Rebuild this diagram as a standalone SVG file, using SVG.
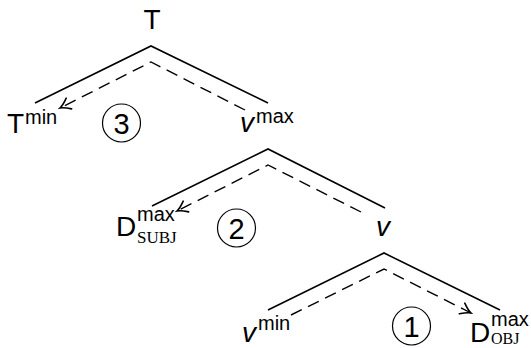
<svg xmlns="http://www.w3.org/2000/svg" width="531" height="348" viewBox="0 0 531 348">
<defs>
<style>
.solid{fill:none;stroke:#000;stroke-width:1.6}
.dash{fill:none;stroke:#000;stroke-width:1.4;stroke-dasharray:12 7}
.circ{fill:none;stroke:#000;stroke-width:1.2}
.lbl{font-family:"Liberation Sans","DejaVu Sans",sans-serif;font-size:28px;fill:#000}
.it{font-style:italic}
.sup{font-family:"Liberation Sans","DejaVu Sans",sans-serif;font-size:20px;fill:#000}
.sub{font-family:"Liberation Serif","DejaVu Serif",serif;font-size:17px;fill:#000}
.num{font-family:"Liberation Sans","DejaVu Sans",sans-serif;font-size:29px;fill:#000;text-anchor:middle}
</style>
<marker id="arr" viewBox="-12 -7 14 14" refX="0" refY="0" markerWidth="14" markerHeight="14" markerUnits="userSpaceOnUse" orient="auto">
<path d="M -10,-6 Q -4,-1.2 0,0 Q -4,1.2 -10,6" fill="none" stroke="#000" stroke-width="1.6" stroke-linecap="round"/>
</marker>
</defs>
<g id="connectors">
<polyline class="solid" points="35,103 151,46 268,103"/>
<polyline class="dash" points="245,110 151,62 60,108" marker-end="url(#arr)"/>
<polyline class="solid" points="152,206 268,149 385,208"/>
<polyline class="dash" points="361,212 268,165 177,211" marker-end="url(#arr)"/>
<polyline class="solid" points="268,310 384,253 500,310"/>
<polyline class="dash" points="291,315 384,269 471,313" marker-end="url(#arr)"/>
</g>
<g id="T">
<text class="lbl" x="152" y="29" text-anchor="middle">T</text>
</g>
<g id="Tmin">
<text class="lbl" x="7" y="133">T</text>
<text class="sup" x="25" y="124">min</text>
</g>
<g id="vmax">
<text class="lbl it" x="240" y="132">v</text>
<text class="sup" x="256" y="123">max</text>
</g>
<g id="circle3">
<circle class="circ" cx="121.5" cy="123" r="19"/>
<text class="num" x="121.5" y="133.5">3</text>
</g>
<g id="Dsubj">
<text class="lbl" x="116" y="236">D</text>
<text class="sup" x="137" y="221">max</text>
<text class="sub" x="137" y="243">SUBJ</text>
</g>
<g id="v">
<text class="lbl it" x="376" y="236">v</text>
</g>
<g id="circle2">
<circle class="circ" cx="236.5" cy="228" r="19"/>
<text class="num" x="236.5" y="238.5">2</text>
</g>
<g id="vmin">
<text class="lbl it" x="242" y="342">v</text>
<text class="sup" x="258" y="330">min</text>
</g>
<g id="circle1">
<circle class="circ" cx="411.5" cy="326" r="19"/>
<text class="num" x="411.5" y="336.5">1</text>
</g>
<g id="Dobj">
<text class="lbl" x="470" y="342">D</text>
<text class="sup" x="491" y="326">max</text>
<text class="sub" x="491" y="343.5" style="font-size:16px">OBJ</text>
</g>
</svg>
